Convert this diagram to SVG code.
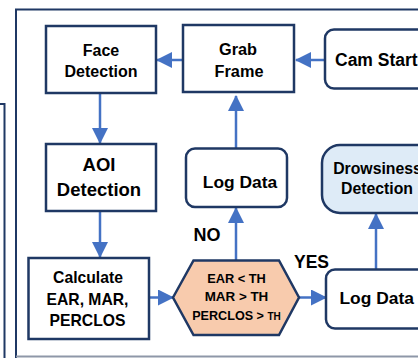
<svg xmlns="http://www.w3.org/2000/svg" width="418" height="358" viewBox="0 0 418 358">
<defs>
<style>
.box{fill:#fff;stroke:#1f3864;stroke-width:2.5}
.hex{fill:#f8cbad;stroke:#1f3864;stroke-width:2.5}
.drow{fill:#deebf7;stroke:#1f3864;stroke-width:2.5}
.t{font-family:"Liberation Sans",Arial,sans-serif;font-weight:bold;fill:#000;text-anchor:middle}
.c{stroke:#4472c4;stroke-width:2.5;fill:none}
.frame{fill:none;stroke:#1f3864;stroke-width:2}
</style>
<marker id="ah" markerUnits="userSpaceOnUse" markerWidth="16" markerHeight="16" viewBox="0 0 16 16" refX="15" refY="8" orient="auto">
<path d="M0,0 L16,8 L0,16 Z" fill="#4472c4"/>
</marker>
</defs>
<rect width="418" height="358" fill="#fff"/>
<g id="frames">
<path class="frame" d="M0,104 H4.5 V358"/>
<path class="frame" d="M16,358 V9.5 H418"/>
<line x1="16" y1="356.5" x2="418" y2="356.5" stroke="#8e97a8" stroke-width="2"/>
</g>
<g id="connectors">
<line class="c" x1="325" y1="60" x2="296" y2="60" marker-end="url(#ah)"/>
<line class="c" x1="183" y1="60" x2="157" y2="60" marker-end="url(#ah)"/>
<line class="c" x1="100" y1="93" x2="100" y2="143" marker-end="url(#ah)"/>
<line class="c" x1="100" y1="211" x2="100" y2="257" marker-end="url(#ah)"/>
<line class="c" x1="149" y1="297.5" x2="173" y2="297.5" marker-end="url(#ah)"/>
<line class="c" x1="236" y1="260" x2="236" y2="208" marker-end="url(#ah)"/>
<line class="c" x1="236" y1="148" x2="236" y2="96" marker-end="url(#ah)"/>
<line class="c" x1="299" y1="297.5" x2="326" y2="297.5" marker-end="url(#ah)"/>
<line class="c" x1="376" y1="269" x2="376" y2="214" marker-end="url(#ah)"/>
</g>
<g id="face-detection">
<rect class="box" x="46" y="26" width="110" height="67"/>
<text class="t" x="101" y="56" font-size="16">Face</text>
<text class="t" x="101" y="77" font-size="16">Detection</text>
</g>
<g id="grab-frame">
<rect class="box" x="183" y="25" width="111" height="67"/>
<text class="t" x="238" y="55" font-size="16.3">Grab</text>
<text class="t" x="239" y="77" font-size="16.3">Frame</text>
</g>
<g id="cam-start">
<rect class="box" x="325" y="29.5" width="110" height="59" rx="9"/>
<text class="t" x="335" y="66" font-size="17.5" style="text-anchor:start">Cam Start</text>
</g>
<g id="aoi-detection">
<rect class="box" x="46" y="144" width="110" height="67"/>
<text class="t" x="99" y="171" font-size="18.5">AOI</text>
<text class="t" x="99" y="196" font-size="18.5">Detection</text>
</g>
<g id="calculate">
<rect class="box" x="28.5" y="258" width="120.5" height="81"/>
<text class="t" x="88" y="283" font-size="15.7">Calculate</text>
<text class="t" x="87.5" y="304.5" font-size="15.7">EAR, MAR,</text>
<text class="t" x="87.5" y="326" font-size="15.7">PERCLOS</text>
</g>
<g id="threshold">
<polygon class="hex" points="173,297.5 193.5,260.5 279,260.5 299,297.5 279,335 193.5,335"/>
<text class="t" x="236.5" y="282.5" font-size="12.8">EAR &lt; TH</text>
<text class="t" x="236.5" y="301" font-size="13.4">MAR &gt; TH</text>
<text class="t" x="236.5" y="319.5" font-size="12.6">PERCLOS &gt; <tspan font-size="10">TH</tspan></text>
</g>
<g id="log-data-1">
<rect class="box" x="186" y="148.5" width="101" height="58.5" rx="9"/>
<text class="t" x="240" y="188" font-size="17.4">Log Data</text>
</g>
<g id="drowsiness">
<rect class="drow" x="322" y="145" width="115" height="68" rx="18"/>
<text class="t" x="377.5" y="174" font-size="15.8">Drowsiness</text>
<text class="t" x="377" y="194" font-size="15.8">Detection</text>
</g>
<g id="log-data-2">
<rect class="box" x="326" y="269.5" width="110" height="59" rx="9"/>
<text class="t" x="339.5" y="304" font-size="17.4" style="text-anchor:start">Log Data</text>
</g>
<g id="labels">
<text class="t" x="207" y="241" font-size="18">NO</text>
<text class="t" x="311.5" y="268" font-size="17.5">YES</text>
</g>
</svg>
